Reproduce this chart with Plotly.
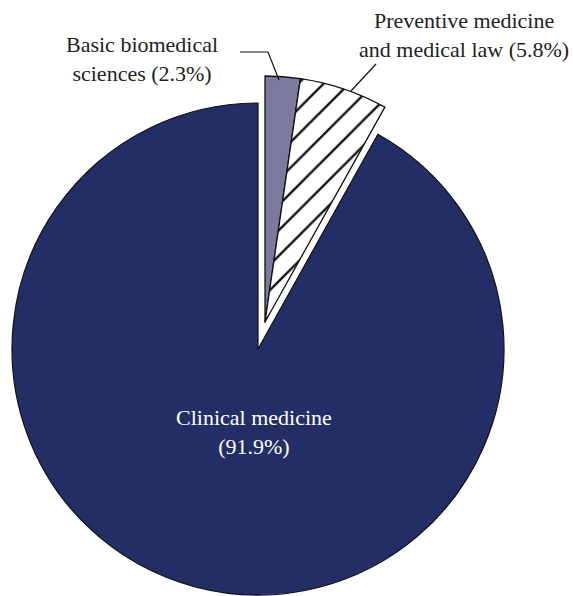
import plotly.graph_objects as go

# Share of items by field
categories = ["Basic biomedical sciences", "Preventive medicine and medical law", "Clinical medicine"]
shares = [2.3, 5.8, 91.9]
label_lines = [
    "Basic biomedical<br>sciences (2.3%)",
    "Preventive medicine<br>and medical law (5.8%)",
    "Clinical medicine<br>(91.9%)",
]

W, H = 573, 596
NAVY = "#232E66"
LAVENDER = "#7D7AA0"


def px_x(x):
    return x / W


def px_y(y):
    return 1 - y / H


def domain(cx, cy, r):
    return dict(x=[px_x(cx - r), px_x(cx + r)], y=[px_y(cy + r), px_y(cy - r)])


R = 246
main_center = (258, 349)
# the two small fields are exploded together along their common bisector
pulled_center = (265, 322)

fig = go.Figure()

# main disc: clinical medicine only
fig.add_trace(go.Pie(
    labels=categories, values=shares, sort=False, direction="clockwise", rotation=0,
    domain=domain(*main_center, R),
    marker=dict(colors=["rgba(0,0,0,0)", "rgba(0,0,0,0)", NAVY],
                line=dict(color="#111111", width=[0, 0, 1.2])),
    textinfo="none", hoverinfo="label+percent", showlegend=False,
))

# exploded wedges: basic sciences and preventive medicine
fig.add_trace(go.Pie(
    labels=categories, values=shares, sort=False, direction="clockwise", rotation=0,
    domain=domain(*pulled_center, R),
    marker=dict(colors=[LAVENDER, "white", "rgba(0,0,0,0)"],
                line=dict(color="#111111", width=[1.3, 1.3, 0]),
                pattern=dict(shape=["", "/", ""], fgcolor="#111111", bgcolor="white",
                             fgopacity=1, size=18, solidity=0.13, fillmode="overlay")),
    textinfo="none", hoverinfo="label+percent", showlegend=False,
))

font_serif = "Liberation Serif, Times New Roman, serif"

fig.add_annotation(x=px_x(142), y=px_y(59), xref="paper", yref="paper", text=label_lines[0],
                   showarrow=False, font=dict(family=font_serif, size=22, color="#222222"),
                   align="center", xanchor="center", yanchor="middle")
fig.add_annotation(x=px_x(464), y=px_y(35), xref="paper", yref="paper", text=label_lines[1],
                   showarrow=False, font=dict(family=font_serif, size=22, color="#222222"),
                   align="center", xanchor="center", yanchor="middle")
fig.add_annotation(x=px_x(254), y=px_y(432), xref="paper", yref="paper", text=label_lines[2],
                   showarrow=False, font=dict(family=font_serif, size=22, color="white"),
                   align="center", xanchor="center", yanchor="middle")

# leader lines
fig.add_shape(type="path", xref="paper", yref="paper",
              path=f"M {px_x(240)} {px_y(52)} L {px_x(268)} {px_y(52)} L {px_x(279)} {px_y(80)}",
              line=dict(color="#111111", width=1.2))
fig.add_shape(type="line", xref="paper", yref="paper",
              x0=px_x(376), y0=px_y(64), x1=px_x(351), y1=px_y(91),
              line=dict(color="#111111", width=1.2))

fig.update_layout(width=W, height=H, margin=dict(l=0, r=0, t=0, b=0),
                  paper_bgcolor="white", plot_bgcolor="white")

fig.write_html("out.html")
